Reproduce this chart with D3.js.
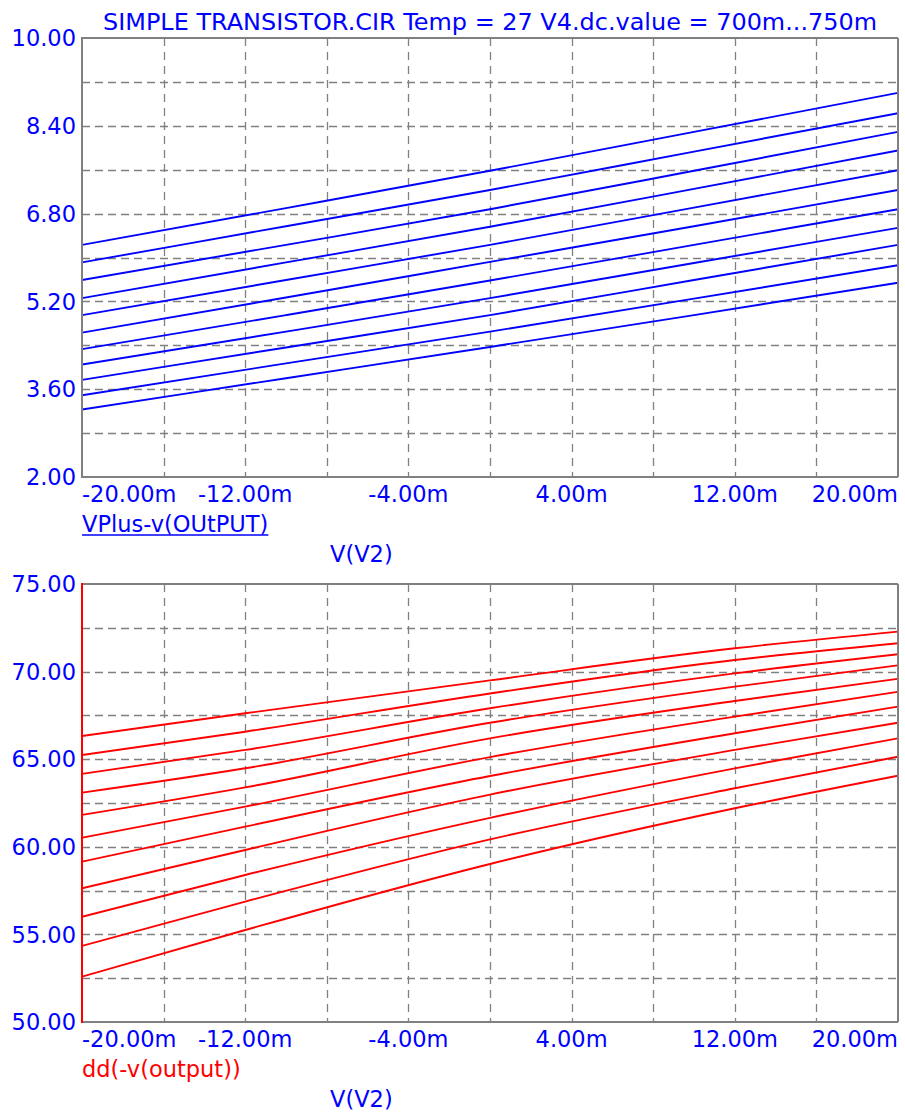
<!DOCTYPE html>
<html>
<head>
<meta charset="utf-8">
<script src="https://cdn.jsdelivr.net/npm/d3@7"></script>
<style>
  html, body { margin: 0; padding: 0; background: #fff; }
  svg { display: block; }
  text { font-family: "DejaVu Sans", sans-serif; }
</style>
</head>
<body>
<svg id="chart" width="905" height="1117"></svg>
<script>
// ---------- DATA ----------
const titleText = "SIMPLE TRANSISTOR.CIR Temp = 27 V4.dc.value = 700m...750m";
const xLabel = "V(V2)";
const topTraceLabel = "VPlus-v(OUtPUT)";
const bottomTraceLabel = "dd(-v(output))";

// x values in millivolts (V(V2))
const xDomain = [-20, 20];
const xGridTicks = [-16, -12, -8, -4, 0, 4, 8, 12, 16];
const xLabelTicks = [-20, -12, -4, 4, 12, 20];

// top plot: VPlus-v(OUtPUT), one series per V4 step (700m..750m)
const topX = [-20, -10, 0, 10, 20];
const top1  = [6.23, 6.90, 7.58, 8.29, 9.00];
const top2  = [5.91, 6.57, 7.23, 7.93, 8.63];
const top3  = [5.59, 6.23, 6.88, 7.58, 8.29];
const top4  = [5.26, 5.91, 6.56, 7.25, 7.95];
const top5  = [4.95, 5.59, 6.23, 6.91, 7.59];
const top6  = [4.63, 5.27, 5.92, 6.57, 7.23];
const top7  = [4.33, 4.95, 5.58, 6.23, 6.88];
const top8  = [4.05, 4.65, 5.26, 5.90, 6.54];
const top9  = [3.77, 4.36, 4.95, 5.59, 6.23];
const top10 = [3.49, 4.07, 4.65, 5.25, 5.86];
const top11 = [3.23, 3.80, 4.37, 4.95, 5.54];
const topSeries = [top1, top2, top3, top4, top5, top6, top7, top8, top9, top10, top11];
const topYDomain = [2, 10];
const topYGrid = [2.8, 3.6, 4.4, 5.2, 6.0, 6.8, 7.6, 8.4, 9.2];
const topYLabels = [2.0, 3.6, 5.2, 6.8, 8.4, 10.0];

// bottom plot: dd(-v(output))
const botX = [-20, -12, 0, 12, 20];
const bot1  = [66.32, 67.62, 69.50, 71.33, 72.28];
const bot2  = [65.24, 66.57, 68.75, 70.66, 71.62];
const bot3  = [64.16, 65.53, 67.91, 69.90, 70.99];
const bot4  = [63.09, 64.48, 67.08, 69.14, 70.36];
const bot5  = [61.82, 63.39, 66.19, 68.32, 69.59];
const bot6  = [60.52, 62.29, 65.12, 67.43, 68.85];
const bot7  = [59.15, 61.15, 64.04, 66.48, 68.00];
const bot8  = [57.63, 59.82, 62.98, 65.53, 67.08];
const bot9  = [56.01, 58.39, 61.65, 64.48, 66.19];
const bot10 = [54.34, 56.87, 60.42, 63.34, 65.14];
const bot11 = [52.59, 55.25, 59.02, 62.20, 64.06];
const botSeries = [bot1, bot2, bot3, bot4, bot5, bot6, bot7, bot8, bot9, bot10, bot11];
const botYDomain = [50, 75];
const botYGrid = [52.5, 55, 57.5, 60, 62.5, 65, 67.5, 70, 72.5];
const botYLabels = [50, 55, 60, 65, 70, 75];

// ---------- DRAW ----------
const svg = d3.select("#chart");
const BLUE = "#0000ff", RED = "#ff0000", GRAY = "#808080";
const FS = 22.5;
const fmt2 = v => d3.format(".2f")(v).replace("\u2212", "-");

svg.append("text")
  .attr("x", 103).attr("y", 30)
  .attr("textLength", 774).attr("lengthAdjust", "spacingAndGlyphs")
  .attr("fill", BLUE).attr("font-size", FS)
  .text(titleText);

function drawPanel(opts) {
  const { left, right, top, bottom, xs, series, yDomain, yGrid, yLabels, color, leftAxisColor, clipId } = opts;
  const x = d3.scaleLinear().domain(xDomain).range([left, right]);
  const y = d3.scaleLinear().domain(yDomain).range([bottom, top]);
  const g = svg.append("g");

  // grid
  g.selectAll(".hg").data(yGrid).join("line")
    .attr("x1", left).attr("x2", right)
    .attr("y1", d => Math.round(y(d)) + 0.5).attr("y2", d => Math.round(y(d)) + 0.5)
    .attr("stroke", GRAY).attr("stroke-width", 1.3).attr("stroke-dasharray", "8,5");
  g.selectAll(".vg").data(xGridTicks).join("line")
    .attr("x1", d => Math.round(x(d)) + 0.5).attr("x2", d => Math.round(x(d)) + 0.5)
    .attr("y1", top).attr("y2", bottom)
    .attr("stroke", GRAY).attr("stroke-width", 1.3).attr("stroke-dasharray", "8,6");

  // traces
  svg.append("clipPath").attr("id", clipId).append("rect")
    .attr("x", left).attr("y", top).attr("width", right - left).attr("height", bottom - top);
  const line = d3.line().x((d, i) => x(xs[i])).y(d => y(d)).curve(d3.curveMonotoneX);
  g.append("g").attr("clip-path", `url(#${clipId})`)
    .selectAll("path").data(series).join("path")
    .attr("d", line)
    .attr("fill", "none").attr("stroke", color).attr("stroke-width", 1.9);

  // frame
  g.append("line").attr("x1", left).attr("x2", right).attr("y1", top).attr("y2", top)
    .attr("stroke", GRAY).attr("stroke-width", 2);
  g.append("line").attr("x1", left).attr("x2", right).attr("y1", bottom).attr("y2", bottom)
    .attr("stroke", GRAY).attr("stroke-width", 2);
  g.append("line").attr("x1", right).attr("x2", right).attr("y1", top).attr("y2", bottom)
    .attr("stroke", GRAY).attr("stroke-width", 2);
  g.append("line").attr("x1", left).attr("x2", left).attr("y1", top - 1).attr("y2", bottom + 1)
    .attr("stroke", leftAxisColor).attr("stroke-width", 2);

  // y labels
  g.selectAll(".yl").data(yLabels).join("text")
    .attr("x", left - 6).attr("y", d => y(d))
    .attr("dy", "0.36em")
    .attr("text-anchor", "end")
    .attr("fill", BLUE).attr("font-size", FS)
    .text(d => fmt2(d));

  // x labels
  g.selectAll(".xl").data(xLabelTicks).join("text")
    .attr("x", d => x(d)).attr("y", bottom + 25)
    .attr("text-anchor", (d, i) => i === 0 ? "start" : (i === xLabelTicks.length - 1 ? "end" : "middle"))
    .attr("fill", BLUE).attr("font-size", FS)
    .text(d => fmt2(d) + "m");
  return { x, y };
}

drawPanel({ left: 82, right: 898, top: 38, bottom: 477, xs: topX, series: topSeries,
  yDomain: topYDomain, yGrid: topYGrid, yLabels: topYLabels, color: BLUE, leftAxisColor: GRAY, clipId: "clipTop" });
drawPanel({ left: 82, right: 898, top: 584, bottom: 1022, xs: botX, series: botSeries,
  yDomain: botYDomain, yGrid: botYGrid, yLabels: botYLabels, color: RED, leftAxisColor: RED, clipId: "clipBot" });

// trace labels
const tl = svg.append("text").attr("x", 82).attr("y", 532)
  .attr("fill", BLUE).attr("font-size", FS).text(topTraceLabel);
const tlw = tl.node().getComputedTextLength();
svg.append("line").attr("x1", 82).attr("x2", 82 + tlw).attr("y1", 535).attr("y2", 535)
  .attr("stroke", BLUE).attr("stroke-width", 1.5);
svg.append("text").attr("x", 330).attr("y", 562)
  .attr("fill", BLUE).attr("font-size", FS).text(xLabel);

svg.append("text").attr("x", 82).attr("y", 1077)
  .attr("fill", RED).attr("font-size", FS).text(bottomTraceLabel);
svg.append("text").attr("x", 330).attr("y", 1107)
  .attr("fill", BLUE).attr("font-size", FS).text(xLabel);
</script>
</body>
</html>
